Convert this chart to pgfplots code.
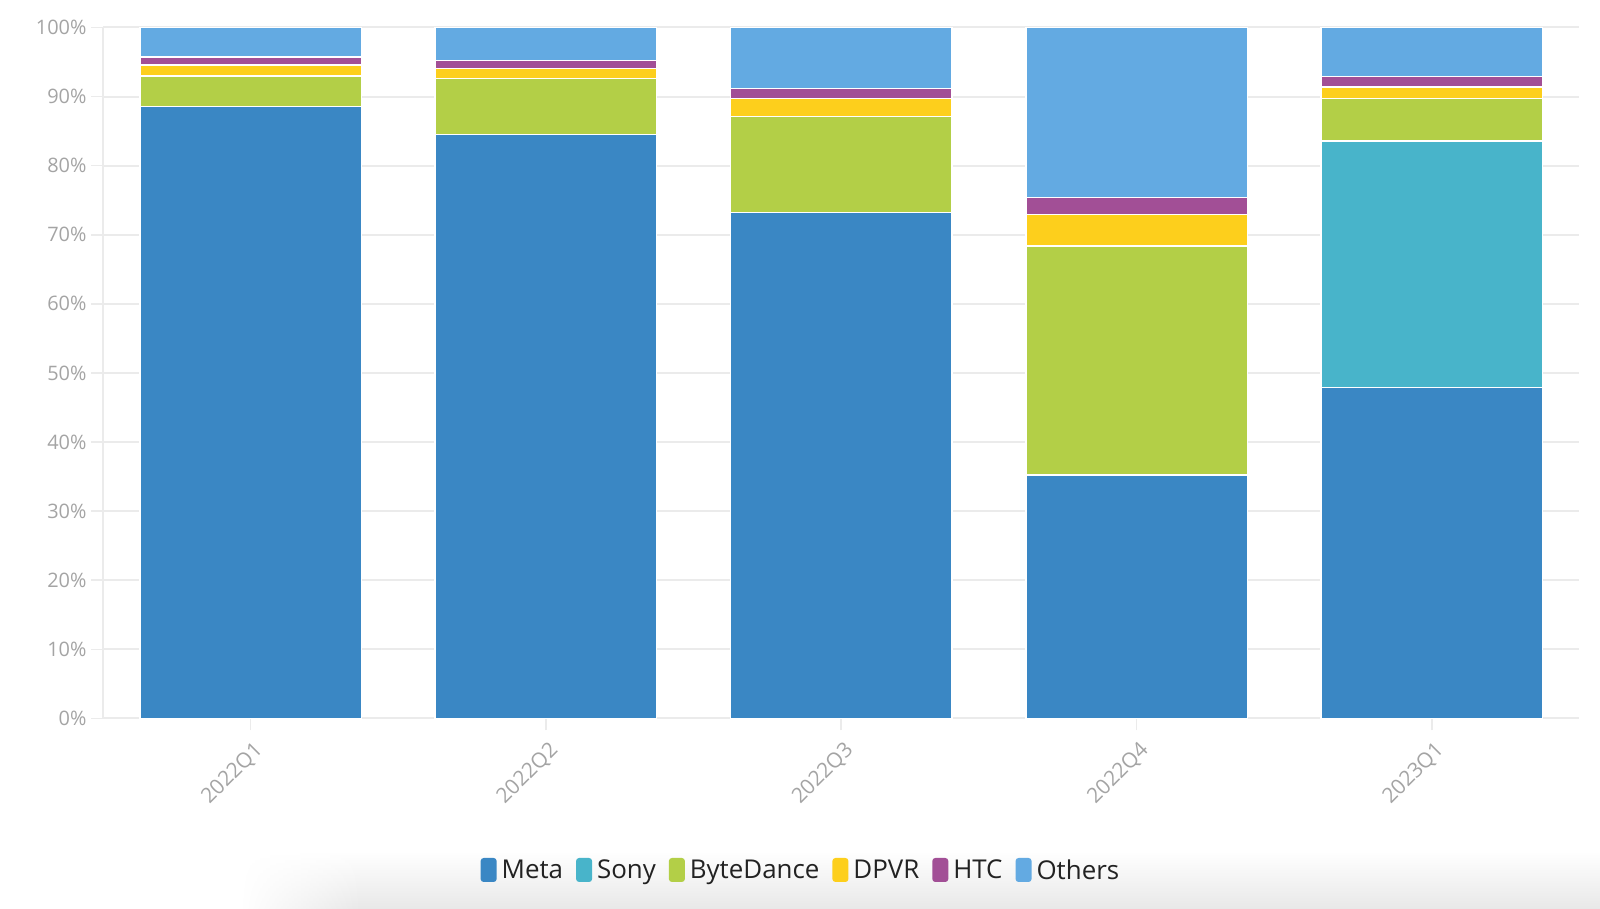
\documentclass[border=0pt]{standalone}
\usepackage{fontspec}
\setmainfont{Open Sans}
\usepackage{pgfplots}
\usepackage{pgfplotstable}
\pgfplotsset{compat=1.18}
\usetikzlibrary{fadings}

\definecolor{cMeta}{HTML}{3A87C4}
\definecolor{cSony}{HTML}{48B4CA}
\definecolor{cByte}{HTML}{B3CF47}
\definecolor{cDPVR}{HTML}{FDCF1C}
\definecolor{cHTC}{HTML}{A24F96}
\definecolor{cOth}{HTML}{63AAE2}
\definecolor{gridc}{HTML}{EBEBEB}
\definecolor{tickc}{HTML}{A4A4A4}
\definecolor{legc}{HTML}{222222}

\tikzfading[name=fadeleft, left color=transparent!100, right color=transparent!0]

% market share per quarter, percent
\pgfplotstableread{
x Meta Sony Byte DPVR HTC Others
0 88.6 0    4.4  1.6 1.1 4.3
1 84.5 0    8.1  1.5 1.1 4.8
2 73.2 0    13.9 2.6 1.5 8.8
3 35.2 0    33.2 4.5 2.5 24.6
4 47.9 35.7 6.1  1.7 1.5 7.1
}\share

\begin{document}
\begin{tikzpicture}
\useasboundingbox (0,0) rectangle (1600bp,909bp);
% soft shadow along the bottom edge
\shade[top color=white, bottom color=black!9, path fading=fadeleft] (240bp,0) rectangle (360bp,58bp);
\shade[top color=white, bottom color=black!9] (360bp,0) rectangle (1600bp,58bp);
\begin{axis}[
    at={(103bp,190.6bp)}, anchor=south west,
    width=1476.5bp, height=690.9bp, scale only axis,
    ybar stacked, bar width=0.75,
    xmin=-0.5, xmax=4.5, ymin=0, ymax=100,
    xtick={0,1,2,3,4},
    xticklabels={2022Q1,2022Q2,2022Q3,2022Q4,2023Q1},
    ytick={0,10,...,100},
    yticklabel={\pgfmathprintnumber{\tick}\%},
    /pgf/number format/assume math mode=true,
    axis x line=bottom, axis y line=left,
    axis line style={-, gridc, line width=2bp},
    ymajorgrids, grid style={gridc, line width=2bp},
    tick align=outside, major tick length=12bp,
    tick style={gridc, line width=1.5bp},
    ticklabel style={font=\fontsize{20}{22}\selectfont, text=tickc},
    xticklabel style={font=\fontsize{21}{23}\selectfont, rotate=45, anchor=north east, yshift=-5bp, xshift=-2bp},
    yticklabel style={xshift=-1bp},
    every axis plot/.append style={draw=white, line width=1.5bp},
    legend style={at={(0.4727,-0.2194)}, anchor=center, draw=none, fill=none,
        legend columns=-1,
        font=\fontsize{26}{30}\selectfont, text=legc,
        /tikz/every odd column/.append style={column sep=3bp},
        /tikz/every even column/.append style={column sep=11bp}},
    legend image code/.code={\fill[#1, draw=none, rounded corners=3bp] (0bp,-12bp) rectangle (16bp,12bp);},
]
\addplot[fill=cMeta] table[x=x, y=Meta] {\share};
\addplot[fill=cSony] table[x=x, y=Sony] {\share};
\addplot[fill=cByte] table[x=x, y=Byte] {\share};
\addplot[fill=cDPVR] table[x=x, y=DPVR] {\share};
\addplot[fill=cHTC] table[x=x, y=HTC] {\share};
\addplot[fill=cOth] table[x=x, y=Others] {\share};
\legend{Meta, Sony, ByteDance, DPVR, HTC, Others}
\end{axis}
\end{tikzpicture}
\end{document}
